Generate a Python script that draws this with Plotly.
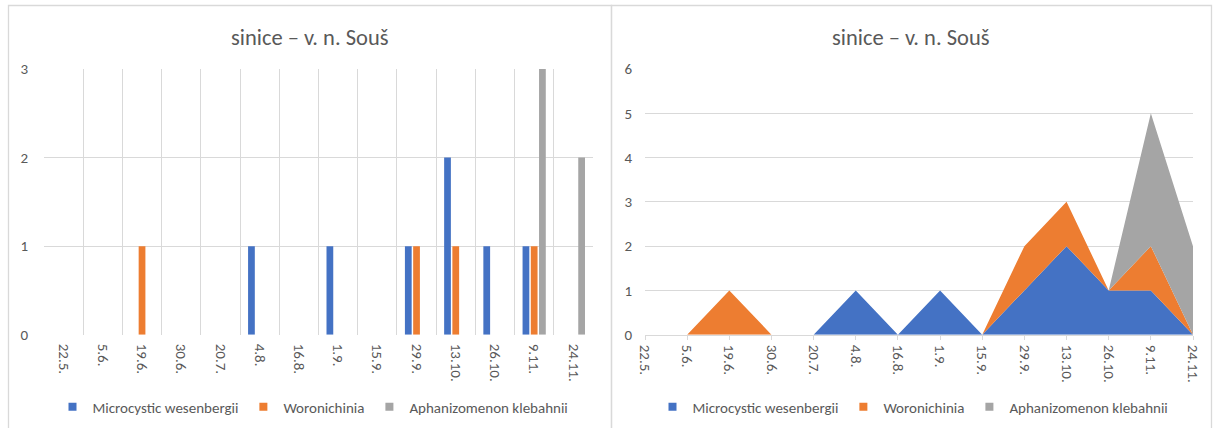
import plotly.graph_objects as go

dates = ["22.5.", "5.6.", "19.6.", "30.6.", "20.7.", "4.8.", "16.8.", "1.9.",
         "15.9.", "29.9.", "13.10.", "26.10.", "9.11.", "24.11."]
microcystis = [0, 0, 0, 0, 0, 1, 0, 1, 0, 1, 2, 1, 1, 0]
woronichinia = [0, 0, 1, 0, 0, 0, 0, 0, 0, 1, 1, 0, 1, 0]
aphanizomenon = [0, 0, 0, 0, 0, 0, 0, 0, 0, 0, 0, 0, 3, 2]
names = ["Microcystic wesenbergii", "Woronichinia", "Aphanizomenon klebahnii"]
colors = ["#4472C4", "#ED7D31", "#A5A5A5"]
series = [microcystis, woronichinia, aphanizomenon]
title_text = "sinice – v. n. Souš"

W, H = 1216, 428
FONT = "Carlito, Calibri, Lato, sans-serif"
TXT = "#595959"
GRID = "#d9d9d9"

def px(x):
    return x / W

def py(y):
    return (H - y) / H

fig = go.Figure()

# Left: clustered bars
for name, col, vals in zip(names, colors, series):
    fig.add_trace(go.Bar(x=dates, y=vals, name=name, marker=dict(color=col, line=dict(width=0)),
                         xaxis="x", yaxis="y", showlegend=False))
# Right: stacked area
for name, col, vals in zip(names, colors, series):
    fig.add_trace(go.Scatter(x=dates, y=vals, name=name, mode="lines", stackgroup="one",
                             line=dict(width=0, color=col), fillcolor=col,
                             xaxis="x2", yaxis="y2", showlegend=False))
# Legend entries
for name, col in zip(names, colors):
    fig.add_trace(go.Scatter(x=[None], y=[None], mode="markers", name=name,
                             marker=dict(symbol="square", size=8, color=col),
                             xaxis="x", yaxis="y", legend="legend"))
for name, col in zip(names, colors):
    fig.add_trace(go.Scatter(x=[None], y=[None], mode="markers", name=name,
                             marker=dict(symbol="square", size=8, color=col),
                             xaxis="x2", yaxis="y2", legend="legend2"))

ydom = [py(334.7), py(69)]
tickfont = dict(family=FONT, size=15, color=TXT)
legfont = dict(family=FONT, size=15, color=TXT)

fig.update_layout(
    width=W, height=H,
    margin=dict(l=0, r=0, t=0, b=0),
    paper_bgcolor="white", plot_bgcolor="white",
    barmode="group", bargap=0.37, bargroupgap=0.18,
    xaxis=dict(domain=[px(44), px(593)], type="category", range=[-0.5, 13.5],
               tickson="boundaries", showgrid=True, gridcolor=GRID, gridwidth=1,
               ticks="", tickangle=90, tickfont=tickfont, ticklabelstandoff=8,
               showline=False, zeroline=False, anchor="y", fixedrange=True,
               automargin=False),
    yaxis=dict(domain=ydom, range=[0, 3], dtick=1, showgrid=True, gridcolor=GRID,
               zeroline=False, showline=False, tickfont=tickfont, ticklabelstandoff=15,
               anchor="x", fixedrange=True, automargin=False),
    xaxis2=dict(domain=[px(645), px(1193)], type="category", range=[0, 13],
                showgrid=False, ticks="outside", ticklen=4, tickcolor=GRID,
                showline=True, linecolor=GRID, linewidth=1, tickangle=90,
                tickfont=tickfont, ticklabelstandoff=2, zeroline=False,
                anchor="y2", fixedrange=True, automargin=False),
    yaxis2=dict(domain=ydom, range=[0, 6], dtick=1, showgrid=True, gridcolor=GRID,
                zeroline=False, showline=False, tickfont=tickfont, ticklabelstandoff=12,
                anchor="x2", fixedrange=True, automargin=False),
    legend=dict(orientation="h", x=px(313), y=py(407), xanchor="center", yanchor="middle",
                font=legfont, itemwidth=30, traceorder="normal",
                bgcolor="rgba(0,0,0,0)"),
    legend2=dict(orientation="h", x=px(913), y=py(407), xanchor="center", yanchor="middle",
                 font=legfont, itemwidth=30, traceorder="normal",
                 bgcolor="rgba(0,0,0,0)"),
    annotations=[
        dict(text=title_text, x=px(310), y=py(38), xref="paper", yref="paper",
             showarrow=False, xanchor="center", yanchor="middle",
             font=dict(family=FONT, size=22.5, color=TXT)),
        dict(text=title_text, x=px(911), y=py(38), xref="paper", yref="paper",
             showarrow=False, xanchor="center", yanchor="middle",
             font=dict(family=FONT, size=22.5, color=TXT)),
    ],
    shapes=[
        dict(type="rect", xref="paper", yref="paper", x0=px(8.5), x1=px(611.5),
             y0=py(440), y1=py(5.5), line=dict(color=GRID, width=1.3)),
        dict(type="rect", xref="paper", yref="paper", x0=px(611.5), x1=px(1211.5),
             y0=py(440), y1=py(5.5), line=dict(color=GRID, width=1.3)),
    ],
)

fig.write_html("out.html")
